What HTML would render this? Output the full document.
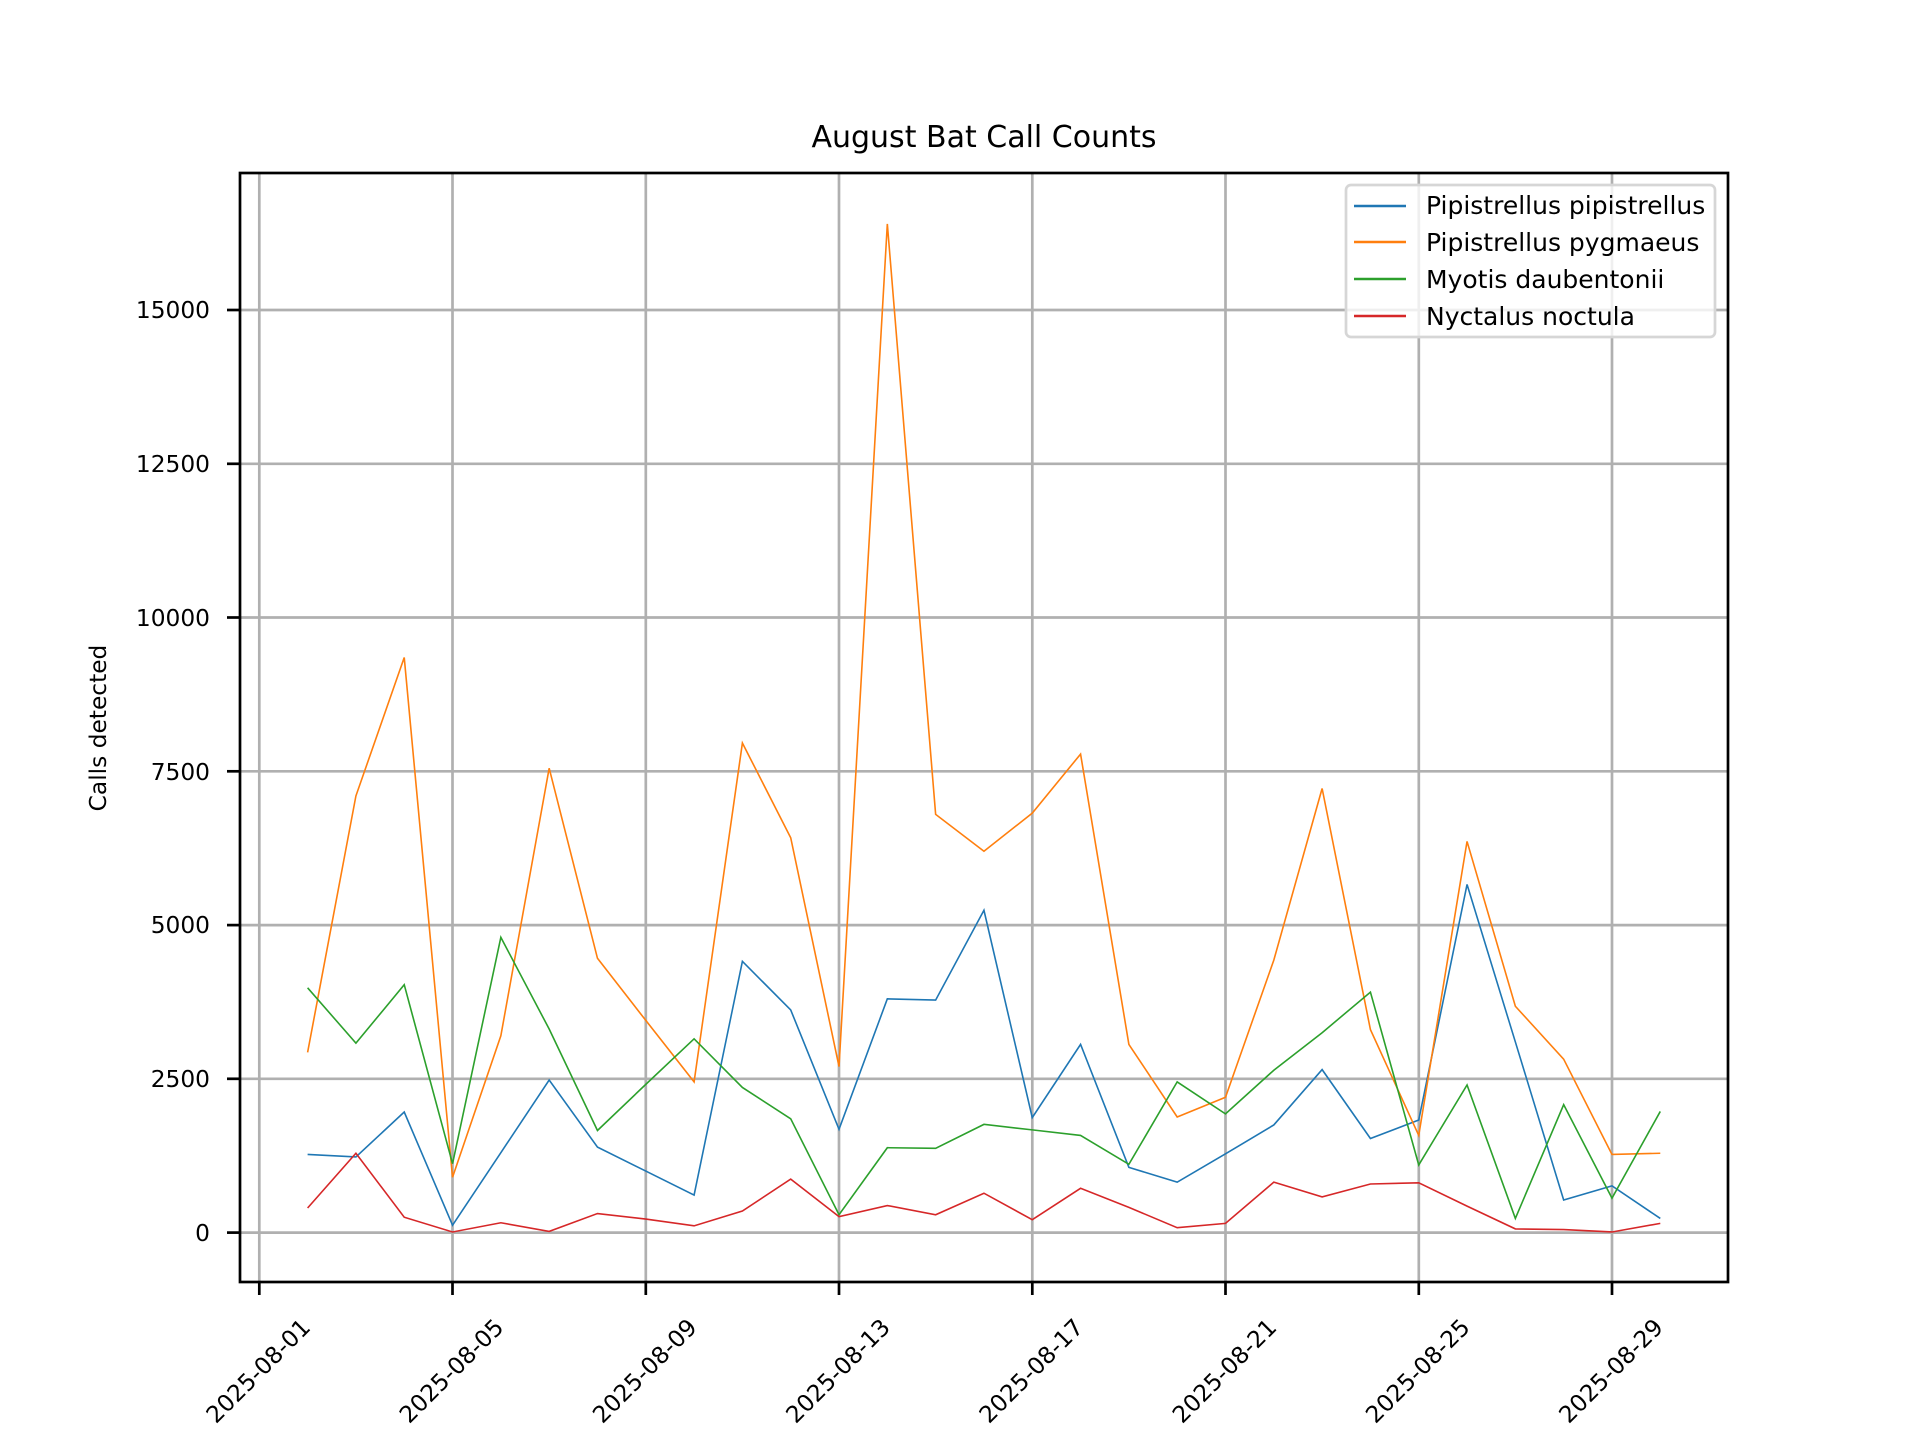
<!DOCTYPE html>
<html><head><meta charset="utf-8"><style>html,body{margin:0;padding:0;background:#fff}svg{display:block}text{font-family:"DejaVu Sans","Liberation Sans",sans-serif;fill:#000}</style></head>
<body>
<svg width="1920" height="1440" viewBox="0 0 1920 1440" xmlns="http://www.w3.org/2000/svg">
<rect width="1920" height="1440" fill="#fff"/>
<text x="984" y="147" font-size="30" text-anchor="middle">August Bat Call Counts</text>
<g stroke="#b0b0b0" stroke-width="2.7">
<line x1="259.3" y1="173" x2="259.3" y2="1282"/><line x1="452.5" y1="173" x2="452.5" y2="1282"/><line x1="645.8" y1="173" x2="645.8" y2="1282"/><line x1="839" y1="173" x2="839" y2="1282"/><line x1="1032.3" y1="173" x2="1032.3" y2="1282"/><line x1="1225.5" y1="173" x2="1225.5" y2="1282"/><line x1="1418.8" y1="173" x2="1418.8" y2="1282"/><line x1="1612" y1="173" x2="1612" y2="1282"/>
<line x1="240" y1="1232.6" x2="1728" y2="1232.6"/><line x1="240" y1="1078.8" x2="1728" y2="1078.8"/><line x1="240" y1="925.1" x2="1728" y2="925.1"/><line x1="240" y1="771.3" x2="1728" y2="771.3"/><line x1="240" y1="617.5" x2="1728" y2="617.5"/><line x1="240" y1="463.8" x2="1728" y2="463.8"/><line x1="240" y1="310" x2="1728" y2="310"/>
</g>
<g transform="translate(259.3,1232.6) scale(48.31,-0.061507)" fill="none" stroke-width="1.6">
<polyline vector-effect="non-scaling-stroke" stroke="#1f77b4" points="1,1270 2,1230 3,1960 4,120 5,1300 6,2480 7,1390 8,1000 9,610 10,4410 11,3620 12,1680 13,3800 14,3780 15,5240 16,1870 17,3060 18,1060 19,820 20,1280 21,1750 22,2650 23,1530 24,1830 25,5660 26,3100 27,530 28,760 29,230"/>
<polyline vector-effect="non-scaling-stroke" stroke="#ff7f0e" points="1,2930 2,7100 3,9350 4,900 5,3200 6,7550 7,4460 8,3450 9,2450 10,7960 11,6420 12,2700 13,16400 14,6800 15,6200 16,6820 17,7780 18,3060 19,1880 20,2200 21,4430 22,7220 23,3300 24,1580 25,6360 26,3680 27,2820 28,1270 29,1290"/>
<polyline vector-effect="non-scaling-stroke" stroke="#2ca02c" points="1,3980 2,3080 3,4030 4,1120 5,4800 6,3310 7,1660 8,2410 9,3150 10,2360 11,1850 12,290 13,1380 14,1370 15,1760 16,1670 17,1580 18,1110 19,2450 20,1930 21,2640 22,3250 23,3910 24,1100 25,2400 26,230 27,2080 28,560 29,1970"/>
<polyline vector-effect="non-scaling-stroke" stroke="#d62728" points="1,400 2,1290 3,250 4,10 5,160 6,20 7,310 8,220 9,110 10,350 11,870 12,260 13,440 14,290 15,640 16,210 17,720 18,410 19,80 20,150 21,820 22,580 23,790 24,810 25,430 26,60 27,50 28,10 29,150"/>
</g>
<rect x="240" y="173" width="1488" height="1109" fill="none" stroke="#000" stroke-width="2.7"/>
<g stroke="#000" stroke-width="2.7">
<line x1="259.3" y1="1282" x2="259.3" y2="1295"/><line x1="452.5" y1="1282" x2="452.5" y2="1295"/><line x1="645.8" y1="1282" x2="645.8" y2="1295"/><line x1="839" y1="1282" x2="839" y2="1295"/><line x1="1032.3" y1="1282" x2="1032.3" y2="1295"/><line x1="1225.5" y1="1282" x2="1225.5" y2="1295"/><line x1="1418.8" y1="1282" x2="1418.8" y2="1295"/><line x1="1612" y1="1282" x2="1612" y2="1295"/>
<line x1="227" y1="1232.6" x2="240" y2="1232.6"/><line x1="227" y1="1078.8" x2="240" y2="1078.8"/><line x1="227" y1="925.1" x2="240" y2="925.1"/><line x1="227" y1="771.3" x2="240" y2="771.3"/><line x1="227" y1="617.5" x2="240" y2="617.5"/><line x1="227" y1="463.8" x2="240" y2="463.8"/><line x1="227" y1="310" x2="240" y2="310"/>
</g>
<g font-size="23.3" text-anchor="end">
<text x="210" y="1241">0</text><text x="210" y="1087">2500</text><text x="210" y="933">5000</text><text x="210" y="780">7500</text><text x="210" y="626">10000</text><text x="210" y="472">12500</text><text x="210" y="318">15000</text>
</g>
<g font-size="23.3" text-anchor="middle" dominant-baseline="middle">
<text transform="translate(259.3,1372) rotate(-45)">2025-08-01</text>
<text transform="translate(452.5,1372) rotate(-45)">2025-08-05</text>
<text transform="translate(645.8,1372) rotate(-45)">2025-08-09</text>
<text transform="translate(839,1372) rotate(-45)">2025-08-13</text>
<text transform="translate(1032.3,1372) rotate(-45)">2025-08-17</text>
<text transform="translate(1225.5,1372) rotate(-45)">2025-08-21</text>
<text transform="translate(1418.8,1372) rotate(-45)">2025-08-25</text>
<text transform="translate(1612,1372) rotate(-45)">2025-08-29</text>
</g>
<text transform="translate(106,728) rotate(-90)" font-size="23.3" text-anchor="middle">Calls detected</text>
<rect x="1346" y="185" width="369" height="152" rx="5" fill="#fff" fill-opacity="0.8" stroke="#d6d6d6" stroke-width="2.7"/>
<g stroke-width="2.5">
<line x1="1354" y1="206" x2="1406" y2="206" stroke="#1f77b4"/>
<line x1="1354" y1="242" x2="1406" y2="242" stroke="#ff7f0e"/>
<line x1="1354" y1="279" x2="1406" y2="279" stroke="#2ca02c"/>
<line x1="1354" y1="316" x2="1406" y2="316" stroke="#d62728"/>
</g>
<g font-size="25">
<text x="1426" y="214">Pipistrellus pipistrellus</text>
<text x="1426" y="251">Pipistrellus pygmaeus</text>
<text x="1426" y="288">Myotis daubentonii</text>
<text x="1426" y="325">Nyctalus noctula</text>
</g>
</svg>
</body></html>
